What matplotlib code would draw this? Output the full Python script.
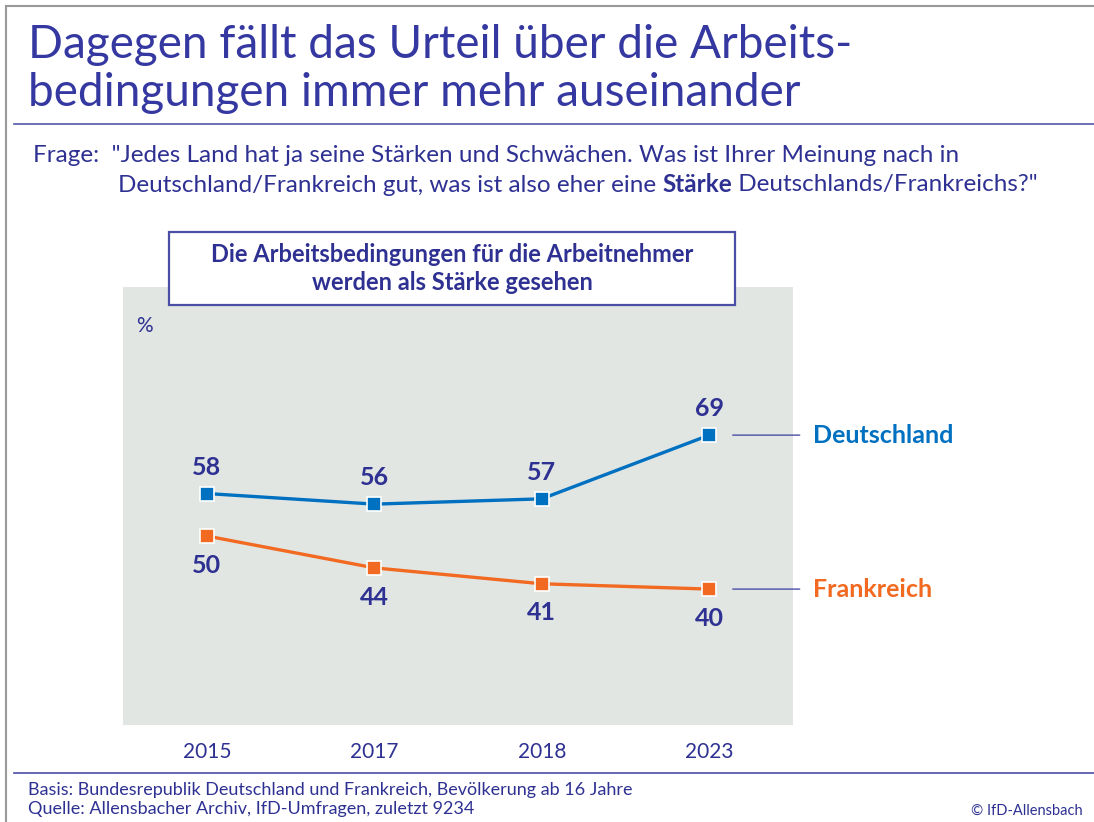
import matplotlib
matplotlib.use("Agg")
from matplotlib import pyplot as plt
from matplotlib.lines import Line2D
from matplotlib.patches import Rectangle

# data
years = ["2015", "2017", "2018", "2023"]
deutschland = [58, 56, 57, 69]
frankreich = [50, 44, 41, 40]

NAVY = "#2E3192"
BLUE = "#0070C0"
ORANGE = "#F26A21"
GREY_BG = "#E1E6E3"

W, H = 1094, 822
plt.rcParams["font.family"] = ["Lato", "DejaVu Sans"]

fig = plt.figure(figsize=(W / 100, H / 100), dpi=100)
fig.patch.set_facecolor("white")


def fx(px):
    return px / W


def fy(py):
    return 1 - py / H


# outer frame (top and left only)
fig.add_artist(Line2D([fx(6), 1], [fy(6), fy(6)], color="#999999", lw=1.5))
fig.add_artist(Line2D([fx(6), fx(6)], [fy(6), 0], color="#999999", lw=1.5))

# title
fig.text(fx(28), fy(45), "Dagegen fällt das Urteil über die Arbeits-", fontsize=33,
         color="#3438A0", va="center")
fig.text(fx(28), fy(93), "bedingungen immer mehr auseinander", fontsize=33,
         color="#3438A0", va="center")
fig.add_artist(Line2D([fx(14), 1], [fy(124), fy(124)], color="#5558A8", lw=1.2))

# question
QS = 17.5
fig.text(fx(33), fy(156), 'Frage:  "Jedes Land hat ja seine Stärken und Schwächen. Was ist Ihrer Meinung nach in',
         fontsize=QS, color=NAVY, va="center")
t = fig.text(fx(118), fy(185), "Deutschland/Frankreich gut, was ist also eher eine ",
             fontsize=QS, color=NAVY, va="center")
fig.canvas.draw()
bb = t.get_window_extent()
t2 = fig.text(bb.x1 / W, fy(185), "Stärke", fontsize=QS, fontweight="bold", color=NAVY, va="center")
fig.canvas.draw()
bb2 = t2.get_window_extent()
fig.text(bb2.x1 / W, fy(185), ' Deutschlands/Frankreichs?"', fontsize=QS,
         color=NAVY, va="center")

# plot area
ax = fig.add_axes([fx(123), fy(725), fx(793) - fx(123), fy(287) - fy(725)])
ax.set_facecolor(GREY_BG)
for s in ax.spines.values():
    s.set_visible(False)

x = list(range(len(years)))
ax.plot(x, deutschland, color=BLUE, lw=2.4, marker="s", markersize=10,
        markerfacecolor=BLUE, markeredgecolor="white", markeredgewidth=1.2, zorder=3)
ax.plot(x, frankreich, color=ORANGE, lw=2.4, marker="s", markersize=10,
        markerfacecolor=ORANGE, markeredgecolor="white", markeredgewidth=1.2, zorder=3)

for xi, v in zip(x, deutschland):
    ax.annotate(str(v), (xi, v), xytext=(0, 19), textcoords="offset points",
                ha="center", va="center", fontsize=18, fontweight="bold", color=NAVY)
for xi, v in zip(x, frankreich):
    ax.annotate(str(v), (xi, v), xytext=(0, -21), textcoords="offset points",
                ha="center", va="center", fontsize=18, fontweight="bold", color=NAVY)

ax.set_xlim(-0.5, 3.5)
ax.set_ylim(14.4, 96.9)
ax.set_yticks([])
ax.set_xticks(x)
ax.set_xticklabels(years, fontsize=15, color=NAVY)
ax.tick_params(axis="x", length=0, pad=12)

ax.text(0.02, 0.91, "%", transform=ax.transAxes, fontsize=15, color=NAVY, va="center")

# series labels with connectors
for vals, name, col in [(deutschland, "Deutschland", BLUE), (frankreich, "Frankreich", ORANGE)]:
    ax.annotate("", xy=(3.14, vals[-1]), xytext=(3.54, vals[-1]),
                arrowprops=dict(arrowstyle="-", color="#4A4EA5", lw=1.0,
                                shrinkA=0, shrinkB=0),
                annotation_clip=False)
    ax.text(3.62, vals[-1], name, fontsize=18, fontweight="bold", color=col,
            va="center", ha="left", clip_on=False)

# header box
fig.patches.append(Rectangle((fx(169), fy(305)), fx(735) - fx(169), fy(232) - fy(305),
                             transform=fig.transFigure, facecolor="white",
                             edgecolor="#4A4EA5", lw=1.6, zorder=5))
fig.text(fx(452), fy(254), "Die Arbeitsbedingungen für die Arbeitnehmer", fontsize=17,
         fontweight="bold", color=NAVY, ha="center", va="center", zorder=6)
fig.text(fx(452), fy(282), "werden als Stärke gesehen", fontsize=17,
         fontweight="bold", color=NAVY, ha="center", va="center", zorder=6)

# footer
fig.add_artist(Line2D([fx(14), 1], [fy(773), fy(773)], color="#4A4EA5", lw=1.2))
fig.text(fx(28), fy(790), "Basis: Bundesrepublik Deutschland und Frankreich, Bevölkerung ab 16 Jahre",
         fontsize=13, color=NAVY, va="center")
fig.text(fx(28), fy(809), "Quelle: Allensbacher Archiv, IfD-Umfragen, zuletzt 9234",
         fontsize=13, color=NAVY, va="center")
fig.text(fx(1083), fy(811), "© IfD-Allensbach", fontsize=10.5,
         color=NAVY, va="center", ha="right")

fig.savefig("out.png", dpi=100)
